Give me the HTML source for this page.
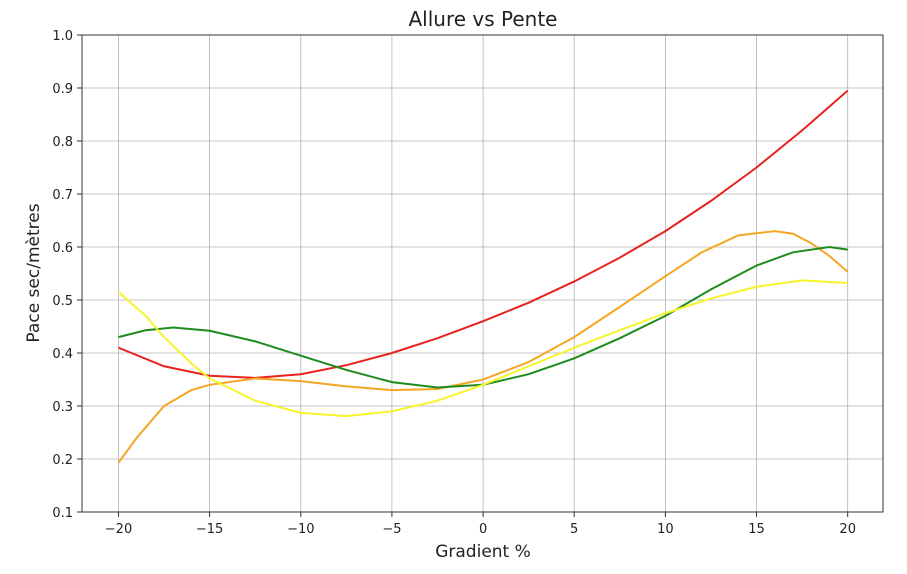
<!DOCTYPE html>
<html><head><meta charset="utf-8"><style>body{margin:0;background:#fff}</style></head><body>
<svg width="907" height="569" xmlns="http://www.w3.org/2000/svg" font-family="'DejaVu Sans','Liberation Sans',sans-serif">
<rect width="907" height="569" fill="#fff"/>
<g stroke="#b0b0b0" stroke-width="0.8">
<line x1="118.5" y1="35" x2="118.5" y2="512"/><line x1="209.6" y1="35" x2="209.6" y2="512"/><line x1="300.8" y1="35" x2="300.8" y2="512"/><line x1="391.9" y1="35" x2="391.9" y2="512"/><line x1="483.1" y1="35" x2="483.1" y2="512"/><line x1="574.2" y1="35" x2="574.2" y2="512"/><line x1="665.4" y1="35" x2="665.4" y2="512"/><line x1="756.5" y1="35" x2="756.5" y2="512"/><line x1="847.7" y1="35" x2="847.7" y2="512"/>
<line x1="82" y1="88" x2="883" y2="88"/><line x1="82" y1="141" x2="883" y2="141"/><line x1="82" y1="194" x2="883" y2="194"/><line x1="82" y1="247" x2="883" y2="247"/><line x1="82" y1="300" x2="883" y2="300"/><line x1="82" y1="353" x2="883" y2="353"/><line x1="82" y1="406" x2="883" y2="406"/><line x1="82" y1="459" x2="883" y2="459"/>
</g>
<g fill="none" stroke-width="2" transform="matrix(18.23 0 0 -530 483.1 565)">
<polyline vector-effect="non-scaling-stroke" stroke="#e8231f" points="-20,0.41 -17.5,0.375 -15,0.357 -12.5,0.353 -10,0.36 -7.5,0.377 -5,0.40 -2.5,0.428 0,0.46 2.5,0.495 5,0.535 7.5,0.58 10,0.63 12.5,0.687 15,0.75 17.5,0.82 20,0.895"/>
<polyline vector-effect="non-scaling-stroke" stroke="#f5a623" points="-20,0.193 -19,0.24 -17.5,0.30 -16,0.33 -15,0.34 -12.5,0.352 -10,0.347 -7.5,0.337 -5,0.33 -2.5,0.332 0,0.35 2.5,0.383 5,0.43 7.5,0.487 10,0.545 12,0.59 14,0.622 16,0.63 17,0.625 18,0.607 19,0.583 20,0.553"/>
<polyline vector-effect="non-scaling-stroke" stroke="#1f8b1f" points="-20,0.43 -18.5,0.443 -17,0.448 -15,0.442 -12.5,0.422 -10,0.395 -7.5,0.368 -5,0.345 -2.5,0.335 0,0.34 2.5,0.36 5,0.39 7.5,0.428 10,0.47 12.5,0.52 15,0.565 17,0.59 19,0.6 20,0.595"/>
<polyline vector-effect="non-scaling-stroke" stroke="#f5f52a" points="-20,0.515 -18.5,0.47 -17.5,0.43 -16,0.38 -15,0.352 -12.5,0.31 -10,0.287 -7.5,0.281 -5,0.29 -2.5,0.31 0,0.34 2.5,0.375 5,0.41 7.5,0.443 10,0.475 12.5,0.503 15,0.525 17.5,0.537 20,0.532"/>
</g>
<rect x="82" y="35" width="801" height="477" fill="none" stroke="#333" stroke-width="1"/>
<g stroke="#333" stroke-width="1">
<line x1="118.5" y1="512" x2="118.5" y2="517"/><line x1="209.6" y1="512" x2="209.6" y2="517"/><line x1="300.8" y1="512" x2="300.8" y2="517"/><line x1="391.9" y1="512" x2="391.9" y2="517"/><line x1="483.1" y1="512" x2="483.1" y2="517"/><line x1="574.2" y1="512" x2="574.2" y2="517"/><line x1="665.4" y1="512" x2="665.4" y2="517"/><line x1="756.5" y1="512" x2="756.5" y2="517"/><line x1="847.7" y1="512" x2="847.7" y2="517"/>
<line x1="77" y1="35" x2="82" y2="35"/><line x1="77" y1="88" x2="82" y2="88"/><line x1="77" y1="141" x2="82" y2="141"/><line x1="77" y1="194" x2="82" y2="194"/><line x1="77" y1="247" x2="82" y2="247"/><line x1="77" y1="300" x2="82" y2="300"/><line x1="77" y1="353" x2="82" y2="353"/><line x1="77" y1="406" x2="82" y2="406"/><line x1="77" y1="459" x2="82" y2="459"/><line x1="77" y1="512" x2="82" y2="512"/>
</g>
<g font-size="13" fill="#222" text-anchor="end">
<text x="73" y="40">1.0</text><text x="73" y="93">0.9</text><text x="73" y="146">0.8</text><text x="73" y="199">0.7</text><text x="73" y="252">0.6</text><text x="73" y="305">0.5</text><text x="73" y="358">0.4</text><text x="73" y="411">0.3</text><text x="73" y="464">0.2</text><text x="73" y="517">0.1</text>
</g>
<g font-size="13" fill="#222" text-anchor="middle">
<text x="118.5" y="533">−20</text><text x="209.6" y="533">−15</text><text x="300.8" y="533">−10</text><text x="391.9" y="533">−5</text><text x="483.1" y="533">0</text><text x="574.2" y="533">5</text><text x="665.4" y="533">10</text><text x="756.5" y="533">15</text><text x="847.7" y="533">20</text>
</g>
<text x="483" y="557" font-size="17" text-anchor="middle" fill="#222">Gradient %</text>
<text x="483" y="26" font-size="20" text-anchor="middle" fill="#222">Allure vs Pente</text>
<text transform="translate(39,273) rotate(-90)" font-size="17" text-anchor="middle" fill="#222">Pace sec/mètres</text>
</svg>
</body></html>
